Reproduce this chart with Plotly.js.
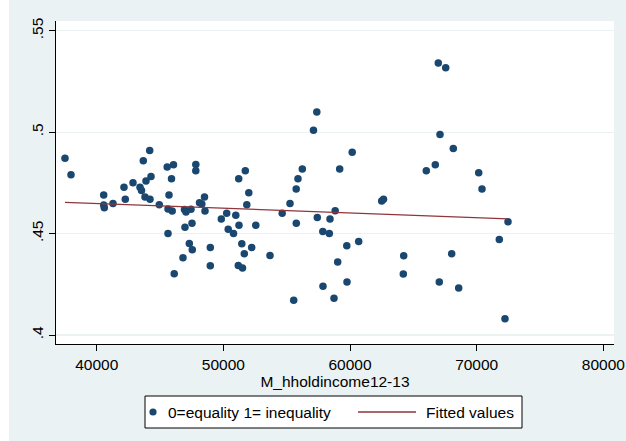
<!DOCTYPE html>
<html>
<head>
<meta charset="utf-8">
<script src="https://cdn.plot.ly/plotly-3.0.1.min.js"></script>
<style>
html,body{margin:0;padding:0;background:#ffffff;}
#chart{position:absolute;left:9px;top:0;width:617px;height:441px;}
</style>
</head>
<body>
<div id="chart"></div>
<script>
// Household income (x) and inequality measure (y)
const income = [
  37497, 37971, 40553, 40553, 40600, 41287, 42155, 42258, 42866, 43419,
  43537, 43679, 43892, 44184, 44287, 43813, 44208, 44942, 45566, 46063,
  45906, 45708, 45629, 45961, 45629, 46932, 47050, 47445, 47824, 47824,
  48511, 48116, 48298, 48550, 47524, 46971, 47311, 47548, 46813, 46119,
  48969, 48969, 49837, 50263, 50382, 50800, 50982, 51234, 51211, 51732,
  52008, 51850, 52561, 51456, 52237, 51653, 51179, 51511, 53682, 54645,
  55261, 55750, 55892, 56232, 55758, 55553, 57116, 57377, 57416, 57851,
  58364, 58419, 58829, 59185, 59745, 60685, 59027, 57866, 59761, 58735,
  60172, 62501, 62643, 64238, 64206, 66022, 66733, 67104, 66969, 67554,
  68154, 68027, 67048, 68580, 70159, 70419, 71785, 72472, 72235
];
const inequality = [
  0.4871, 0.4790, 0.4691, 0.4641, 0.4627, 0.4649, 0.4729, 0.4670, 0.4751, 0.4729,
  0.4712, 0.4859, 0.4759, 0.4910, 0.4781, 0.4680, 0.4670, 0.4642, 0.4829, 0.4840,
  0.4770, 0.4691, 0.4622, 0.4612, 0.4501, 0.4619, 0.4606, 0.4620, 0.4841, 0.4810,
  0.4680, 0.4652, 0.4646, 0.4611, 0.4551, 0.4531, 0.4451, 0.4420, 0.4381, 0.4302,
  0.4432, 0.4342, 0.4572, 0.4600, 0.4521, 0.4501, 0.4590, 0.4541, 0.4770, 0.4810,
  0.4701, 0.4642, 0.4541, 0.4450, 0.4432, 0.4401, 0.4343, 0.4331, 0.4392, 0.4600,
  0.4649, 0.4720, 0.4770, 0.4818, 0.4551, 0.4172, 0.5010, 0.5099, 0.4580, 0.4510,
  0.4501, 0.4572, 0.4613, 0.4818, 0.4440, 0.4461, 0.4360, 0.4241, 0.4261, 0.4181,
  0.4901, 0.4661, 0.4669, 0.4391, 0.4301, 0.4810, 0.4839, 0.4989, 0.5341, 0.5317,
  0.4920, 0.4401, 0.4261, 0.4232, 0.4800, 0.4720, 0.4471, 0.4558, 0.4080
];
// Fitted values line (endpoints)
const fitX = [37497, 72472];
const fitY = [0.4654, 0.4573];

const xTickVals = [40000, 50000, 60000, 70000, 80000];
const xTickText = ["40000", "50000", "60000", "70000", "80000"];
const yTickVals = [0.40, 0.45, 0.50, 0.55];
const yTickText = [".4", ".45", ".5", ".55"];

const seriesNames = ["0=equality 1= inequality", "Fitted values"];
const markerColor = "#1A476F";
const lineColor = "#90353B";
const FS = 15.5;

const traces = [
  {
    x: income, y: inequality, type: "scatter", mode: "markers",
    name: seriesNames[0],
    marker: {color: markerColor, size: 7.5, line: {width: 0}}
  },
  {
    x: fitX, y: fitY, type: "scatter", mode: "lines",
    name: seriesNames[1],
    line: {color: lineColor, width: 1.3}
  }
];

// Legend drawn in paper coordinates (plot area: 558 x 323 px)
const PW = 558, PH = 323;
const px = v => v / PW;      // horizontal pixel offset -> paper units
const py = v => v / PH;      // vertical pixel offset -> paper units
const legL = px(89), legR = px(466), legT = -py(52), legB = -py(84);
const legMidY = -py(68);

const shapes = [
  {type: "rect", xref: "paper", yref: "paper", x0: legL, x1: legR, y0: legB, y1: legT,
   line: {color: "#000000", width: 1}, fillcolor: "#FFFFFF", layer: "above"},
  {type: "circle", xref: "paper", yref: "paper",
   x0: px(97 - 3.6), x1: px(97 + 3.6), y0: legMidY - py(3.6), y1: legMidY + py(3.6),
   line: {width: 0}, fillcolor: markerColor, layer: "above"},
  {type: "line", xref: "paper", yref: "paper", x0: px(302), x1: px(360), y0: legMidY, y1: legMidY,
   line: {color: lineColor, width: 1.3}, layer: "above"}
];
const annotations = [
  {xref: "paper", yref: "paper", x: px(110), y: legMidY, xanchor: "left", yanchor: "middle",
   text: seriesNames[0], showarrow: false, font: {size: FS, color: "#000000"}},
  {xref: "paper", yref: "paper", x: px(368), y: legMidY, xanchor: "left", yanchor: "middle",
   text: seriesNames[1], showarrow: false, font: {size: FS, color: "#000000"}}
];

const layout = {
  width: 617, height: 441,
  paper_bgcolor: "#EAF2F3",
  plot_bgcolor: "#FFFFFF",
  margin: {l: 47, r: 12, t: 21, b: 97, pad: 0},
  font: {family: "Liberation Sans, Arial, sans-serif", size: FS, color: "#000000"},
  showlegend: false,
  xaxis: {
    range: [36787, 80841],
    tickvals: xTickVals, ticktext: xTickText,
    ticks: "outside", ticklen: 6, tickcolor: "#000000", tickwidth: 1,
    showline: true, linecolor: "#000000", linewidth: 1,
    showgrid: false, zeroline: false,
    tickfont: {size: FS},
    title: {text: "M_hholdincome12-13", font: {size: FS}, standoff: 0},
    automargin: false
  },
  yaxis: {
    range: [0.3956, 0.5548],
    tickvals: yTickVals, ticktext: yTickText,
    tickangle: -90,
    ticks: "outside", ticklen: 6, tickcolor: "#000000", tickwidth: 1,
    showline: true, linecolor: "#000000", linewidth: 1,
    showgrid: true, gridcolor: "#EAF2F3", gridwidth: 1.2,
    zeroline: false,
    tickfont: {size: FS},
    automargin: false
  },
  shapes: shapes,
  annotations: annotations
};

Plotly.newPlot("chart", traces, layout, {displayModeBar: false, staticPlot: true});
</script>
</body>
</html>
